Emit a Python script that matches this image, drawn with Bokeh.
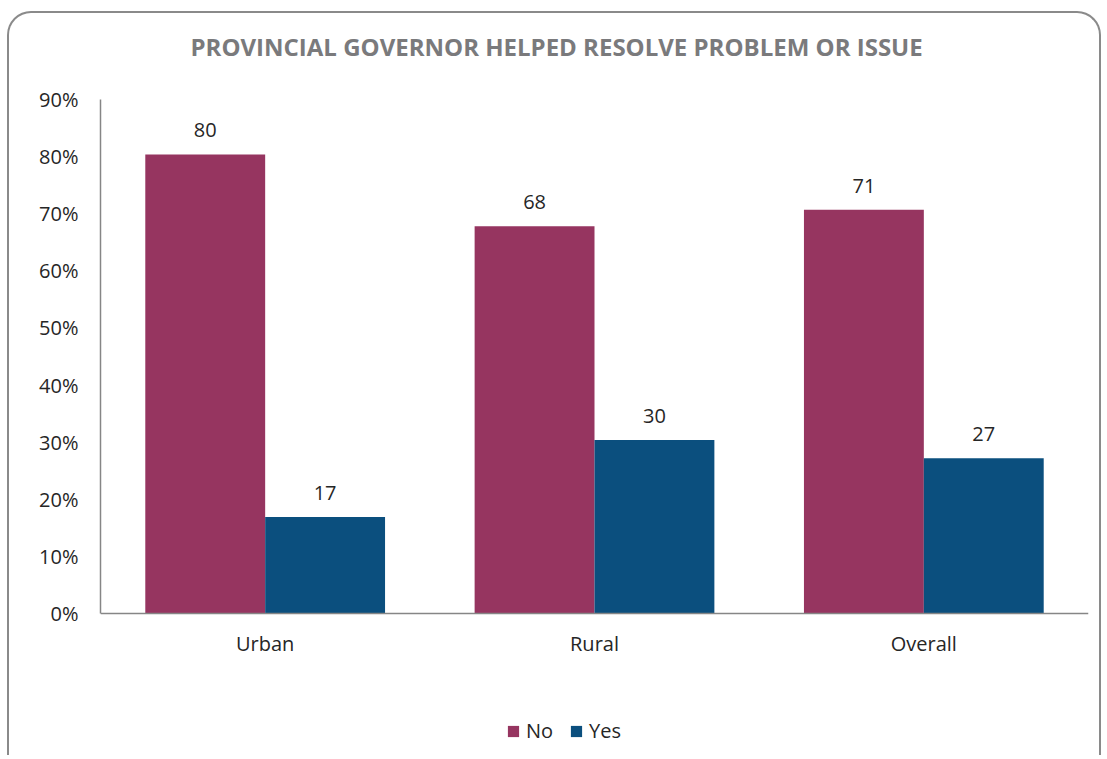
from bokeh.plotting import figure
from bokeh.models import (ColumnDataSource, FactorRange, FixedTicker, PrintfTickFormatter,
                          Legend, LegendItem, Label)
from bokeh.transform import dodge
from bokeh.core.properties import value
from bokeh.embed import file_html
from bokeh.resources import INLINE

# ---- data ----
categories = ["Urban", "Rural", "Overall"]
no_values = [80.4, 67.8, 70.7]
yes_values = [16.9, 30.4, 27.2]
no_labels = ["80", "68", "71"]
yes_labels = ["17", "30", "27"]
y_ticks = [0, 10, 20, 30, 40, 50, 60, 70, 80, 90]
title_text = "PROVINCIAL GOVERNOR HELPED RESOLVE PROBLEM OR ISSUE"

NO_COLOR = "#963560"
YES_COLOR = "#0B4F7E"
TEXT_COLOR = "#262626"
FONT = "Open Sans"

src = ColumnDataSource(dict(cat=categories, no=no_values, yes=yes_values,
                            no_lbl=no_labels, yes_lbl=yes_labels))

p = figure(x_range=FactorRange(*categories, range_padding=0), y_range=(-25.21, 105.07),
           width=1094, height=744, output_backend="svg", toolbar_location=None,
           min_border_left=91, min_border_right=15, min_border_top=0, min_border_bottom=0)
p.background_fill_color = None
p.border_fill_color = None
p.outline_line_color = None
p.xgrid.grid_line_color = None
p.ygrid.grid_line_color = None
p.title.visible = False
p.styles = {"border-top": "2px solid #8a8a8a", "border-left": "2px solid #8a8a8a",
            "border-right": "2px solid #8a8a8a", "border-radius": "24px 24px 0 0",
            "margin-top": "11px", "margin-left": "7px"}

bw = 0.364
r_no = p.vbar(x=dodge("cat", -bw / 2, range=p.x_range), top="no", width=bw, source=src,
              fill_color=NO_COLOR, line_color=None)
r_yes = p.vbar(x=dodge("cat", bw / 2, range=p.x_range), top="yes", width=bw, source=src,
               fill_color=YES_COLOR, line_color=None)

for col, lbl, off in (("no", "no_lbl", -bw / 2), ("yes", "yes_lbl", bw / 2)):
    p.text(x=dodge("cat", off, range=p.x_range), y=col, text=lbl, source=src,
           text_align="center", text_baseline="middle", y_offset=-24,
           text_font=value(FONT), text_font_size="20px", text_color=TEXT_COLOR)

# axes
for ax in (p.xaxis, p.yaxis):
    ax.axis_line_color = "#868686"
    ax.axis_line_width = 1.5
    ax.major_tick_line_color = None
    ax.major_tick_out = 0
    ax.major_tick_in = 0
    ax.minor_tick_line_color = None
    ax.major_label_text_font = FONT
    ax.major_label_text_font_size = "20px"
    ax.major_label_text_color = TEXT_COLOR
p.yaxis.ticker = FixedTicker(ticks=y_ticks)
p.yaxis.formatter = PrintfTickFormatter(format="%d%%")
p.yaxis.bounds = (0, 90)
p.yaxis.major_label_standoff = 22
p.xaxis.fixed_location = 0
p.xaxis.major_label_standoff = 16

# title (inside the frame so it is not clipped)
p.add_layout(Label(x=90, y=711, x_units="screen", y_units="screen", text=title_text,
                   text_align="left", text_baseline="alphabetic",
                   text_font=FONT, text_font_size="24px", text_font_style="bold",
                   text_color="#7a7a7c"))

# legend
legend = Legend(items=[LegendItem(label="No", renderers=[r_no]),
                       LegendItem(label="Yes", renderers=[r_yes])],
                location=(406, 13), orientation="horizontal",
                glyph_width=14, glyph_height=14, label_height=14,
                label_standoff=6, spacing=16, padding=0, margin=0,
                border_line_color=None, background_fill_alpha=0,
                label_text_font=FONT, label_text_font_size="20px",
                label_text_color=TEXT_COLOR)
p.add_layout(legend, "center")

open("out.html", "w").write(file_html(p, INLINE))
